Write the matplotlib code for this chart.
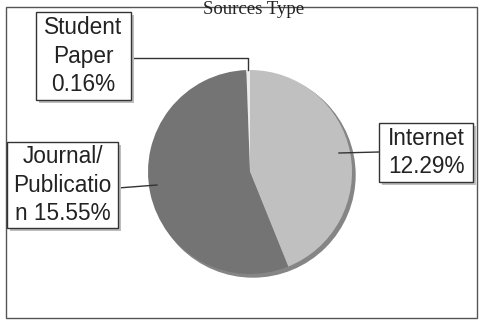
import matplotlib
matplotlib.use("Agg")
from matplotlib import pyplot as plt
from matplotlib.patches import Rectangle, Circle

labels = ["Internet", "Journal/\nPublicatio\nn", "Student\nPaper"]
percents = [12.29, 15.55, 0.16]
colors = ["#c0c0c0", "#747474", "#ececec"]

W, H = 482, 329
fig = plt.figure(figsize=(W / 100, H / 100), dpi=100)
ax = fig.add_axes([0, 0, 1, 1])

def py(y):
    # pixel row (from top) -> data y
    return H - y

cx, cy, r = 250, py(172), 102

# darker rim on the lower right, the 3d look of the original
ax.add_patch(Circle((cx + 3, cy - 3), r, color="#858585", zorder=1))
wedges, _ = ax.pie(percents, colors=colors, startangle=90, counterclock=False,
                   center=(cx, cy), radius=r,
                   wedgeprops=dict(linewidth=0, zorder=2))
for w in wedges:
    w.set_zorder(2)

ax.set_xlim(0, W)
ax.set_ylim(0, H)
ax.set_aspect("auto")
ax.axis("off")

# outer chart frame
ax.add_patch(Rectangle((6, py(318)), 471, 311, fill=False, ec="#555555", lw=1))

# title sits on the top edge of the frame
ax.text(254, py(14), "Sources Type", family="Liberation Serif", fontsize=13.5,
        ha="center", va="baseline", color="#222222")

def label_box(x0, y0, x1, y1, text):
    ax.add_patch(Rectangle((x0 + 3, py(y1 + 3)), x1 - x0, y1 - y0,
                           fc="#bdbdbd", ec="none", zorder=4))
    ax.add_patch(Rectangle((x0, py(y1)), x1 - x0, y1 - y0,
                           fc="white", ec="#333333", lw=1, zorder=5))
    ax.text((x0 + x1) / 2, py((y0 + y1) / 2), text, family="Liberation Sans",
            fontsize=16.3, ha="center", va="center", linespacing=1.3,
            color="#222222", zorder=6)

texts = []
for lab, p in zip(labels, percents):
    if lab.endswith("\nn"):
        texts.append(lab + " %.2f%%" % p)
    else:
        texts.append(lab + "\n%.2f%%" % p)

label_box(379, 123, 473, 182, texts[0])
label_box(7, 142, 118, 228, texts[1])
label_box(36, 12, 131, 100, texts[2])

# leader lines
ax.plot([379, 339], [py(152), py(153)], color="#333333", lw=1, zorder=3)
ax.plot([118, 157], [py(188), py(185)], color="#333333", lw=1, zorder=3)
ax.plot([131, 248, 248], [py(58), py(58), py(70)], color="#333333", lw=1, zorder=3)

fig.savefig("out.png", dpi=100, facecolor="white")
